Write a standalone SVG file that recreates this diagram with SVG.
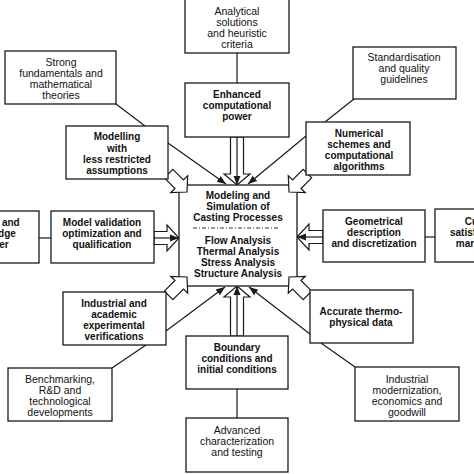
<svg xmlns="http://www.w3.org/2000/svg" width="474" height="474" viewBox="0 0 474 474">
<style>
.bx{fill:#fff;stroke:#1a1a1a;stroke-width:1.3}
.ln{fill:none;stroke:#1a1a1a;stroke-width:1.2}
.ha{fill:#fff;stroke:#1a1a1a;stroke-width:1.2;stroke-linejoin:miter}
text{font-family:"Liberation Sans",Arial,Helvetica,sans-serif;fill:#111;text-anchor:middle}
.b{font-size:10px;font-weight:bold}
.r{font-size:10.5px;font-weight:normal}
</style>
<defs>
<marker id="ah" markerUnits="userSpaceOnUse" markerWidth="10" markerHeight="10" viewBox="0 0 10 10" refX="9" refY="5" orient="auto">
<path d="M0,1.5 L9,5 L0,8.5 Z" fill="#1a1a1a"/>
</marker>
<polygon id="ca" points="-26,-6 -11,-6 -11,-12 0,0 -11,12 -11,6 -26,6"/>
</defs>

<g id="connectors">
<line class="ln" x1="237" y1="53" x2="237" y2="83"/>
<line class="ln" x1="116" y1="104" x2="145" y2="126"/>
<line class="ln" x1="354" y1="99" x2="325" y2="122"/>
<line class="ln" x1="39" y1="238" x2="51" y2="238"/>
<line class="ln" x1="425" y1="237" x2="435" y2="237"/>
<line class="ln" x1="146" y1="345" x2="112" y2="368"/>
<line class="ln" x1="321" y1="343" x2="355" y2="367"/>
<line class="ln" x1="237" y1="389" x2="237" y2="418"/>
<line class="ln" x1="168" y1="143" x2="226" y2="184" marker-end="url(#ah)"/>
<line class="ln" x1="306" y1="136" x2="248" y2="184" marker-end="url(#ah)"/>
<line class="ln" x1="166" y1="331" x2="225" y2="287" marker-end="url(#ah)"/>
<line class="ln" x1="310" y1="334" x2="249" y2="287" marker-end="url(#ah)"/>
<polygon class="ha" points="230.5,137 243.5,137 243.5,174 250,174 237,185 224,174 230.5,174"/>
<line class="ln" x1="237" y1="137" x2="237" y2="185" marker-end="url(#ah)"/>
<polygon class="ha" points="230.5,336 243.5,336 243.5,297 250,297 237,286 224,297 230.5,297"/>
<line class="ln" x1="237" y1="336" x2="237" y2="286" marker-end="url(#ah)"/>
<polygon class="ha" points="154,231.5 167,231.5 167,225 179,238 167,251 167,244.5 154,244.5"/>
<line class="ln" x1="154" y1="238" x2="179" y2="238" marker-end="url(#ah)"/>
<polygon class="ha" points="323,230.5 309,230.5 309,224 297,237 309,250 309,243.5 323,243.5"/>
<line class="ln" x1="323" y1="237" x2="297" y2="237" marker-end="url(#ah)"/>
</g>

<g id="center">
<rect class="bx" x="179" y="185" width="118" height="101"/>
<text class="b" x="238" y="199">Modeling and</text>
<text class="b" x="238" y="210">Simulation of</text>
<text class="b" x="238" y="221">Casting Processes</text>
<line x1="193" y1="228" x2="280" y2="228" stroke="#333" stroke-width="1" stroke-dasharray="4 2 1 2"/>
<text class="b" x="238" y="244">Flow Analysis</text>
<text class="b" x="238" y="255">Thermal Analysis</text>
<text class="b" x="238" y="266">Stress Analysis</text>
<text class="b" x="238" y="277">Structure Analysis</text>
</g>

<g id="corner-arrows">
<use href="#ca" class="ha" transform="translate(187,192) rotate(45)"/>
<use href="#ca" class="ha" transform="translate(289,192) rotate(135)"/>
<use href="#ca" class="ha" transform="translate(187,277) rotate(-45)"/>
<use href="#ca" class="ha" transform="translate(289,277) rotate(-135)"/>
</g>

<g id="analytical">
<rect class="bx" x="185" y="-2" width="104" height="55"/>
<text class="r" x="237" y="15">Analytical</text>
<text class="r" x="237" y="26">solutions</text>
<text class="r" x="237" y="37">and heuristic</text>
<text class="r" x="237" y="48">criteria</text>
</g>
<g id="enhanced">
<rect class="bx" x="185" y="83" width="104" height="54"/>
<text class="b" x="237" y="98">Enhanced</text>
<text class="b" x="237" y="109">computational</text>
<text class="b" x="237" y="120">power</text>
</g>
<g id="strong">
<rect class="bx" x="5" y="51" width="111" height="53"/>
<text class="r" x="61" y="66">Strong</text>
<text class="r" x="61" y="77">fundamentals and</text>
<text class="r" x="61" y="88">mathematical</text>
<text class="r" x="61" y="99">theories</text>
</g>
<g id="modelling">
<rect class="bx" x="66" y="126" width="102" height="53"/>
<text class="b" x="117" y="140">Modelling</text>
<text class="b" x="117" y="151.5">with</text>
<text class="b" x="117" y="163">less restricted</text>
<text class="b" x="117" y="174">assumptions</text>
</g>
<g id="standardisation">
<rect class="bx" x="353" y="47" width="103" height="52"/>
<text class="r" x="404" y="61">Standardisation</text>
<text class="r" x="404" y="72">and quality</text>
<text class="r" x="404" y="83">guidelines</text>
</g>
<g id="numerical">
<rect class="bx" x="306" y="122" width="104" height="53"/>
<text class="b" x="359" y="137">Numerical</text>
<text class="b" x="359" y="148">schemes  and</text>
<text class="b" x="359" y="159">computational</text>
<text class="b" x="359" y="170">algorithms</text>
</g>
<g id="training">
<rect class="bx" x="-65" y="211" width="104" height="52"/>
<text class="b" x="-10" y="226">Training and</text>
<text class="b" x="-10" y="237">knowledge</text>
<text class="b" x="-10" y="248">transfer</text>
</g>
<g id="validation">
<rect class="bx" x="51" y="211" width="103" height="52"/>
<text class="b" x="102" y="226">Model validation</text>
<text class="b" x="102" y="237">optimization and</text>
<text class="b" x="102" y="248">qualification</text>
</g>
<g id="geometrical">
<rect class="bx" x="323" y="210" width="102" height="52"/>
<text class="b" x="374" y="225">Geometrical</text>
<text class="b" x="374" y="236">description</text>
<text class="b" x="374" y="247">and discretization</text>
</g>
<g id="customer">
<rect class="bx" x="435" y="209" width="104" height="53"/>
<text class="b" x="488" y="225">Customer</text>
<text class="b" x="488" y="236">satisfaction and</text>
<text class="b" x="488" y="247">market needs</text>
</g>
<g id="industrial-academic">
<rect class="bx" x="63" y="292" width="103" height="53"/>
<text class="b" x="114" y="307">Industrial and</text>
<text class="b" x="114" y="318">academic</text>
<text class="b" x="114" y="329">experimental</text>
<text class="b" x="114" y="340">verifications</text>
</g>
<g id="accurate">
<rect class="bx" x="310" y="290" width="103" height="53"/>
<text class="b" x="361" y="315">Accurate thermo-</text>
<text class="b" x="361" y="326">physical data</text>
</g>
<g id="benchmarking">
<rect class="bx" x="8" y="368" width="104" height="53"/>
<text class="r" x="60" y="382.5">Benchmarking,</text>
<text class="r" x="60" y="394">R&amp;D and</text>
<text class="r" x="60" y="405">technological</text>
<text class="r" x="60" y="416">developments</text>
</g>
<g id="industrial-modernization">
<rect class="bx" x="355" y="367" width="104" height="54"/>
<text class="r" x="407" y="382.5">Industrial</text>
<text class="r" x="407" y="394">modernization,</text>
<text class="r" x="407" y="405">economics and</text>
<text class="r" x="407" y="416">goodwill</text>
</g>
<g id="boundary">
<rect class="bx" x="186" y="336" width="102" height="53"/>
<text class="b" x="237" y="351">Boundary</text>
<text class="b" x="237" y="362">conditions and</text>
<text class="b" x="237" y="373">initial conditions</text>
</g>
<g id="advanced">
<rect class="bx" x="186" y="418" width="102" height="54"/>
<text class="r" x="237" y="434">Advanced</text>
<text class="r" x="237" y="445">characterization</text>
<text class="r" x="237" y="456">and testing</text>
</g>
</svg>
